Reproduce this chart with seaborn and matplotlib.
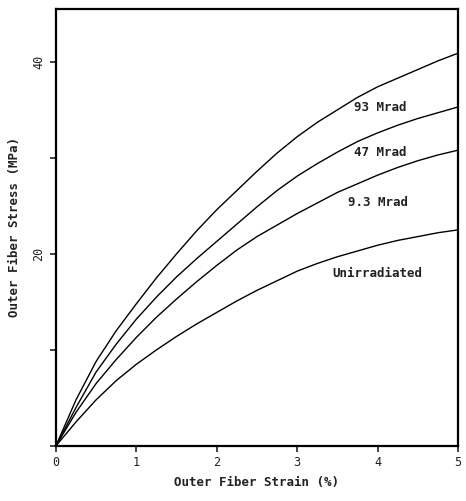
import numpy as np
import pandas as pd
import matplotlib
matplotlib.use("Agg")
import matplotlib.pyplot as plt
import seaborn as sns

strain = [0, 0.25, 0.5, 0.75, 1, 1.25, 1.5, 1.75, 2, 2.25, 2.5, 2.75, 3,
          3.25, 3.5, 3.75, 4, 4.25, 4.5, 4.75, 5]
mrad93 = [0, 4.8, 8.8, 12.0, 14.8, 17.5, 20.0, 22.4, 24.6, 26.6, 28.6, 30.5,
          32.2, 33.7, 35.0, 36.3, 37.4, 38.3, 39.2, 40.1, 40.9]
mrad47 = [0, 4.0, 7.7, 10.6, 13.2, 15.5, 17.6, 19.5, 21.3, 23.1, 24.9, 26.6,
          28.1, 29.4, 30.6, 31.7, 32.6, 33.4, 34.1, 34.7, 35.3]
mrad9_3 = [0, 3.5, 6.5, 9.0, 11.3, 13.4, 15.3, 17.1, 18.8, 20.4, 21.8, 23.0,
           24.2, 25.3, 26.4, 27.3, 28.2, 29.0, 29.7, 30.3, 30.8]
unirr = [0, 2.5, 4.8, 6.8, 8.5, 10.0, 11.4, 12.7, 13.9, 15.1, 16.2, 17.2,
         18.2, 19.0, 19.7, 20.3, 20.9, 21.4, 21.8, 22.2, 22.5]
series_names = ["93 Mrad", "47 Mrad", "9.3 Mrad", "Unirradiated"]
label_pos = [(4.03, 35.2), (4.03, 30.6), (4.0, 25.3), (4.0, 18.0)]
xticks = [0, 1, 2, 3, 4, 5]
yticks = [0, 10, 20, 30, 40]
ytick_labels = ["", "", "20", "", "40"]

rows = []
for name, vals in zip(series_names, [mrad93, mrad47, mrad9_3, unirr]):
    for x, y in zip(strain, vals):
        rows.append({"strain": x, "stress": y, "series": name})
df = pd.DataFrame(rows)

sns.set_style("white")
plt.rcParams['font.family'] = ['DejaVu Sans Mono', 'DejaVu Sans']

fig = plt.figure(figsize=(4.66, 5.01), dpi=100)
ax = fig.add_axes([0.120, 0.110, 0.863, 0.872])
sns.lineplot(data=df, x="strain", y="stress", hue="series",
             palette=["black"] * 4, linewidth=1.0, legend=False, ax=ax,
             estimator=None, sort=True)

for name, (lx, ly) in zip(series_names, label_pos):
    ax.text(lx, ly, name, ha="center", va="center", fontsize=9,
            fontweight="bold", color="#222222")

ax.set_xlim(0, 5)
ax.set_ylim(0, 45.5)
ax.set_xticks(xticks)
ax.set_xticklabels([str(t) for t in xticks])
ax.set_yticks(yticks)
ax.set_yticklabels(ytick_labels, rotation=90, va="center")
ax.tick_params(axis="both", direction="out", length=4, width=1.2,
               labelsize=8.5, colors="#222222", bottom=True, left=True)
for s in ax.spines.values():
    s.set_linewidth(1.6)
    s.set_color("black")
ax.set_xlabel("Outer Fiber Strain (%)", fontsize=9, fontweight="bold",
              color="#222222", labelpad=5)
ax.set_ylabel("Outer Fiber Stress (MPa)", fontsize=9, fontweight="bold",
              color="#222222", labelpad=8)
fig.savefig("out.png", dpi=100)
